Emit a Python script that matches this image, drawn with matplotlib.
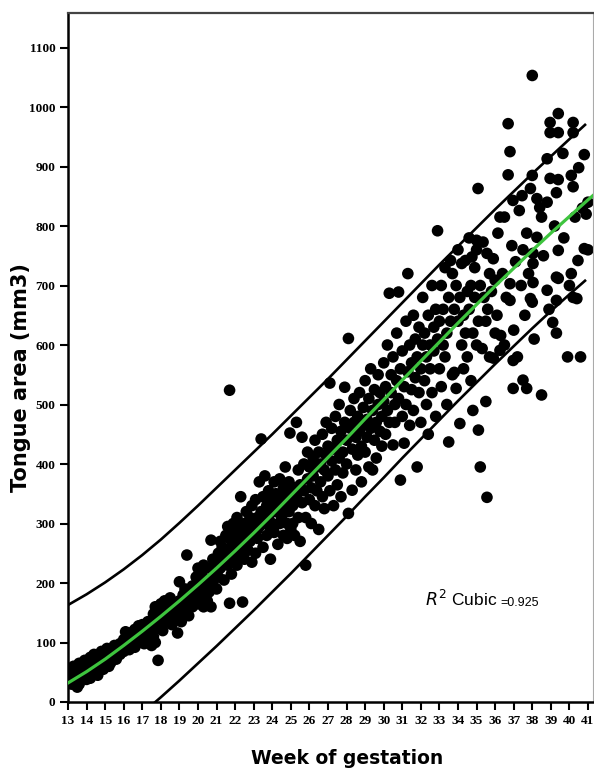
import numpy as np
import matplotlib.pyplot as plt

# fitted cubic and its prediction band
fit_weeks = [13, 14, 15, 16, 17, 18, 19, 20, 21, 22, 23, 24, 25, 26, 27,
             28, 29, 30, 31, 32, 33, 34, 35, 36, 37, 38, 39, 40, 41, 41.3]
fit_area = [32, 51, 72, 95, 119, 144, 170, 197, 225, 254, 284, 315, 347, 379, 411,
            443, 476, 508, 541, 573, 605, 637, 668, 699, 729, 759, 788, 816, 844, 852]

upper_weeks = [13, 14, 15, 16, 17, 18, 19, 20, 21, 22, 23, 24, 25, 26, 27,
               28, 29, 30, 31, 32, 33, 34, 35, 36, 37, 38, 39, 40, 40.84]
upper_area = [163, 181, 201, 223, 247, 273, 301, 330, 360, 390, 420, 450, 481, 512, 543,
              575, 607, 639, 671, 703, 735, 766, 797, 828, 858, 888, 917, 946, 970]

lower_weeks = [17, 18, 19, 20, 21, 22, 23, 24, 25, 26, 27, 28, 29, 30, 31,
               32, 33, 34, 35, 36, 37, 38, 39, 40, 40.84]
lower_area = [-19, 8, 36, 65, 94, 124, 154, 185, 216, 248, 280, 312, 345, 377, 410,
              442, 474, 506, 537, 568, 598, 628, 657, 685, 708]

# measurements (week, area), grouped by stretch of gestation
pts_13_16 = [(13.1, 40), (13.1, 55), (13.2, 30), (13.2, 48), (13.3, 45), (13.3, 60), (13.4, 38),
             (13.4, 52), (13.5, 25), (13.5, 58), (13.6, 44), (13.6, 65), (13.7, 50), (13.7, 40),
             (13.8, 62), (13.8, 47), (13.9, 55), (13.9, 70), (14.0, 45), (14.0, 60), (14.1, 52),
             (14.1, 68), (14.2, 40), (14.2, 75), (14.3, 58), (14.3, 64), (14.4, 50), (14.4, 80),
             (14.5, 62), (14.5, 72), (14.6, 55), (14.6, 45), (14.7, 70), (14.7, 78), (14.8, 60),
             (14.8, 85), (14.9, 68), (15.0, 75), (15.0, 62), (15.1, 90), (15.1, 70), (15.2, 80),
             (15.3, 66), (15.3, 88), (15.4, 75), (15.5, 82), (15.5, 95), (15.6, 72), (15.7, 88),
             (15.8, 80), (15.8, 98), (15.9, 90), (16.0, 85), (16.0, 105), (16.1, 118), (16.1, 92),
             (13.3, 35), (13.6, 30), (14.0, 38), (14.5, 50), (14.9, 55), (15.2, 60), (15.6, 85)]

pts_16_20 = [(16.2, 100), (16.3, 88), (16.3, 110), (16.4, 95), (16.5, 105), (16.5, 118), (16.6, 92),
             (16.7, 112), (16.8, 100), (16.8, 128), (16.9, 108), (17.0, 120), (17.0, 130), (17.1, 98),
             (17.1, 112), (17.2, 125), (17.3, 105), (17.3, 135), (17.4, 118), (17.5, 95), (17.5, 128),
             (17.6, 110), (17.6, 148), (17.7, 100), (17.7, 160), (17.8, 135), (17.8, 155), (17.85, 70),
             (17.9, 125), (17.9, 150), (18.0, 140), (18.0, 165), (18.1, 120), (18.2, 150), (18.2, 170),
             (18.3, 135), (18.4, 160), (18.5, 145), (18.5, 175), (18.6, 130), (18.7, 155), (18.8, 165),
             (18.8, 140), (18.9, 116), (18.9, 150), (19.0, 202), (19.0, 170), (19.1, 135), (19.1, 160),
             (19.2, 180), (19.3, 150), (19.3, 190), (19.4, 247), (19.4, 165), (19.5, 175), (19.5, 145),
             (19.6, 185), (19.7, 160), (19.7, 195), (19.8, 170), (19.9, 210), (19.9, 180), (20.0, 165),
             (20.0, 190), (20.0, 225), (16.6, 122), (17.2, 100), (18.1, 155), (18.6, 160)]

pts_20_25 = [(20.1, 200), (20.2, 175), (20.2, 215), (20.3, 160), (20.3, 230), (20.4, 190), (20.5, 205),
             (20.5, 170), (20.6, 185), (20.6, 225), (20.7, 272), (20.7, 160), (20.8, 200), (20.8, 240),
             (20.9, 215), (21.0, 190), (21.0, 235), (21.1, 250), (21.1, 210), (21.2, 225), (21.3, 260),
             (21.3, 240), (21.4, 205), (21.5, 245), (21.5, 280), (21.6, 230), (21.6, 295), (21.7, 166),
             (21.7, 524), (21.7, 255), (21.8, 270), (21.8, 215), (21.9, 300), (21.9, 240), (22.0, 260),
             (22.0, 285), (22.1, 230), (22.1, 310), (22.2, 250), (22.2, 275), (22.3, 290), (22.3, 345),
             (22.4, 168), (22.4, 265), (22.5, 300), (22.5, 240), (22.6, 280), (22.6, 320), (22.7, 255),
             (22.7, 295), (22.8, 310), (22.8, 270), (22.9, 235), (22.9, 330), (23.0, 285), (23.0, 300),
             (23.1, 250), (23.1, 340), (23.2, 310), (23.2, 275), (23.3, 370), (23.3, 295), (23.4, 442),
             (23.4, 320), (23.5, 260), (23.5, 345), (23.6, 300), (23.6, 380), (23.7, 330), (23.7, 280),
             (23.8, 310), (23.8, 355), (23.9, 240), (23.9, 325), (24.0, 300), (24.0, 340), (24.1, 370),
             (24.1, 285), (24.2, 320), (24.2, 350), (24.3, 265), (24.3, 330), (24.4, 375), (24.4, 300),
             (24.5, 345), (24.5, 310), (24.6, 280), (24.6, 360), (24.7, 330), (24.7, 395), (24.8, 300),
             (24.8, 350), (24.9, 320), (24.9, 370), (24.95, 452), (25.0, 290), (25.0, 340),
             (21.2, 270), (22.0, 235), (22.6, 300), (23.2, 290), (23.9, 290), (24.4, 325), (24.8, 275)]

pts_25_30 = [(25.1, 330), (25.1, 300), (25.2, 360), (25.2, 280), (25.3, 345), (25.3, 470), (25.4, 390),
             (25.4, 310), (25.5, 365), (25.5, 270), (25.6, 335), (25.6, 445), (25.7, 400), (25.7, 355),
             (25.8, 230), (25.8, 310), (25.9, 375), (25.9, 420), (26.0, 340), (26.0, 395), (26.1, 360),
             (26.1, 300), (26.2, 410), (26.2, 380), (26.3, 330), (26.3, 440), (26.4, 355), (26.4, 395),
             (26.5, 290), (26.5, 420), (26.6, 370), (26.6, 400), (26.7, 345), (26.7, 450), (26.8, 390),
             (26.8, 325), (26.9, 415), (26.9, 470), (27.0, 380), (27.0, 430), (27.1, 536), (27.1, 355),
             (27.2, 405), (27.2, 460), (27.3, 330), (27.3, 425), (27.4, 390), (27.4, 480), (27.5, 440),
             (27.5, 365), (27.6, 410), (27.6, 500), (27.7, 345), (27.7, 455), (27.8, 420), (27.8, 385),
             (27.9, 529), (27.9, 470), (28.0, 440), (28.0, 400), (28.1, 611), (28.1, 317), (28.2, 460),
             (28.2, 490), (28.3, 356), (28.3, 425), (28.4, 470), (28.4, 510), (28.5, 445), (28.5, 390),
             (28.6, 480), (28.6, 415), (28.7, 520), (28.7, 455), (28.8, 430), (28.8, 370), (28.9, 495),
             (28.9, 465), (29.0, 540), (29.0, 420), (29.1, 475), (29.1, 445), (29.2, 510), (29.2, 395),
             (29.3, 460), (29.3, 560), (29.4, 390), (29.4, 490), (29.5, 525), (29.5, 440), (29.6, 470),
             (29.6, 410), (29.7, 550), (29.7, 500), (29.8, 455), (29.8, 520), (29.9, 480), (29.9, 430),
             (30.0, 505), (30.0, 570)]

pts_30_35 = [(30.1, 450), (30.1, 530), (30.2, 490), (30.2, 600), (30.3, 687), (30.3, 470), (30.4, 520),
             (30.4, 550), (30.5, 432), (30.5, 580), (30.6, 500), (30.6, 470), (30.7, 540), (30.7, 620),
             (30.8, 689), (30.8, 510), (30.9, 373), (30.9, 560), (31.0, 480), (31.0, 590), (31.1, 435),
             (31.1, 530), (31.2, 640), (31.2, 500), (31.3, 720), (31.3, 555), (31.4, 465), (31.4, 600),
             (31.5, 525), (31.5, 570), (31.6, 490), (31.6, 650), (31.7, 545), (31.7, 610), (31.8, 395),
             (31.8, 580), (31.9, 520), (31.9, 630), (32.0, 560), (32.0, 470), (32.1, 600), (32.1, 680),
             (32.2, 540), (32.2, 620), (32.3, 500), (32.3, 580), (32.4, 650), (32.4, 450), (32.5, 600),
             (32.5, 560), (32.6, 700), (32.6, 520), (32.7, 630), (32.7, 590), (32.8, 480), (32.8, 660),
             (32.9, 792), (32.9, 610), (33.0, 560), (33.0, 640), (33.1, 530), (33.1, 700), (33.2, 600),
             (33.2, 660), (33.3, 580), (33.3, 730), (33.4, 620), (33.4, 500), (33.5, 437), (33.5, 680),
             (33.6, 640), (33.6, 742), (33.7, 720), (33.7, 550), (33.8, 660), (33.8, 554), (33.9, 700),
             (33.9, 527), (34.0, 640), (34.0, 760), (34.1, 468), (34.1, 680), (34.2, 600), (34.2, 737),
             (34.3, 560), (34.3, 650), (34.4, 742), (34.4, 620), (34.5, 690), (34.5, 580), (34.6, 780),
             (34.6, 660), (34.7, 540), (34.7, 700), (34.75, 748), (34.8, 490), (34.8, 620), (34.9, 730),
             (34.9, 680), (35.0, 760), (35.0, 600)]

pts_35_41 = [(35.0, 776), (35.08, 863), (35.1, 640), (35.1, 457), (35.2, 395), (35.2, 700), (35.3, 594),
             (35.35, 773), (35.4, 680), (35.5, 640), (35.5, 505), (35.56, 754), (35.56, 344), (35.6, 660),
             (35.7, 720), (35.7, 580), (35.8, 690), (35.9, 745), (35.9, 578), (36.0, 709), (36.0, 620),
             (36.1, 650), (36.15, 788), (36.26, 815), (36.26, 591), (36.3, 616), (36.4, 720), (36.5, 600),
             (36.5, 815), (36.6, 680), (36.7, 972), (36.7, 886), (36.8, 925), (36.8, 703), (36.8, 675),
             (36.9, 767), (36.96, 843), (36.97, 527), (36.97, 574), (37.0, 625), (37.1, 740), (37.2, 580),
             (37.3, 826), (37.4, 700), (37.45, 851), (37.5, 541), (37.5, 760), (37.6, 650), (37.7, 788),
             (37.7, 527), (37.8, 720), (37.9, 863), (37.9, 678), (38.0, 1053), (38.0, 885), (38.0, 672),
             (38.04, 737), (38.04, 754), (38.04, 705), (38.1, 610), (38.25, 846), (38.25, 781), (38.4, 831),
             (38.5, 815), (38.5, 516), (38.6, 750), (38.8, 913), (38.8, 840), (38.8, 692), (38.9, 660),
             (38.96, 974), (38.96, 957), (38.96, 880), (39.1, 638), (39.2, 800), (39.3, 856), (39.3, 714),
             (39.3, 675), (39.3, 620), (39.4, 989), (39.4, 957), (39.4, 878), (39.4, 759), (39.4, 712),
             (39.65, 922), (39.7, 780), (39.9, 580), (40.0, 700), (40.1, 885), (40.1, 720), (40.2, 974),
             (40.2, 957), (40.2, 866), (40.2, 680), (40.3, 815), (40.4, 678), (40.46, 742), (40.5, 898),
             (40.6, 580), (40.7, 830), (40.8, 920), (40.8, 762), (40.9, 820), (41.0, 760), (41.0, 840)]

week_ticks = list(range(13, 42))
area_ticks = list(range(0, 1200, 100))

pts = np.array(pts_13_16 + pts_16_20 + pts_20_25 + pts_25_30 + pts_30_35 + pts_35_41)

fig = plt.figure(figsize=(5.94, 7.72), dpi=100)
ax = fig.add_axes([68 / 594, 70 / 772, 525 / 594, 689 / 772])

ax.scatter(pts[:, 0], pts[:, 1], s=70, c='black', edgecolors='none', zorder=2)
ax.plot(upper_weeks, upper_area, color='black', lw=1.9, zorder=3)
ax.plot(lower_weeks, lower_area, color='black', lw=1.9, zorder=3)
ax.plot(fit_weeks, fit_area, color='#3ec43e', lw=2.3, zorder=4)

ax.set_xlim(13, 41.27)
ax.set_ylim(0, 1158)
ax.set_xticks(week_ticks)
ax.set_yticks(area_ticks)
ax.tick_params(direction='out', length=6, width=1.5, color='black',
               labelsize=9.5, pad=3)
for lab in ax.get_xticklabels() + ax.get_yticklabels():
    lab.set_family('Liberation Serif')
    lab.set_fontweight('bold')

for side in ['left', 'bottom']:
    ax.spines[side].set_linewidth(1.8)
    ax.spines[side].set_color('black')
ax.spines['top'].set_linewidth(1.6)
ax.spines['top'].set_color('#444444')
ax.spines['right'].set_linewidth(0.8)
ax.spines['right'].set_color('#aaaaaa')

r2 = ax.text(32.25, 162, r'$\mathit{R}^{2}$ Cubic', fontsize=12.5,
             family='Liberation Sans', va='baseline')
ax.annotate('=0.925', xy=(1, 0), xycoords=r2, xytext=(2, 0),
            textcoords='offset points', fontsize=9, family='Liberation Sans',
            va='bottom')

fig.text(21 / 594, 1 - 378 / 772, 'Tongue area (mm3)', rotation=90,
         ha='center', va='center', fontsize=15, fontweight='bold')
fig.text(347 / 594, 1 - 759 / 772, 'Week of gestation', ha='center',
         va='center', fontsize=13.5, fontweight='bold')

fig.savefig('out.png', dpi=100)
